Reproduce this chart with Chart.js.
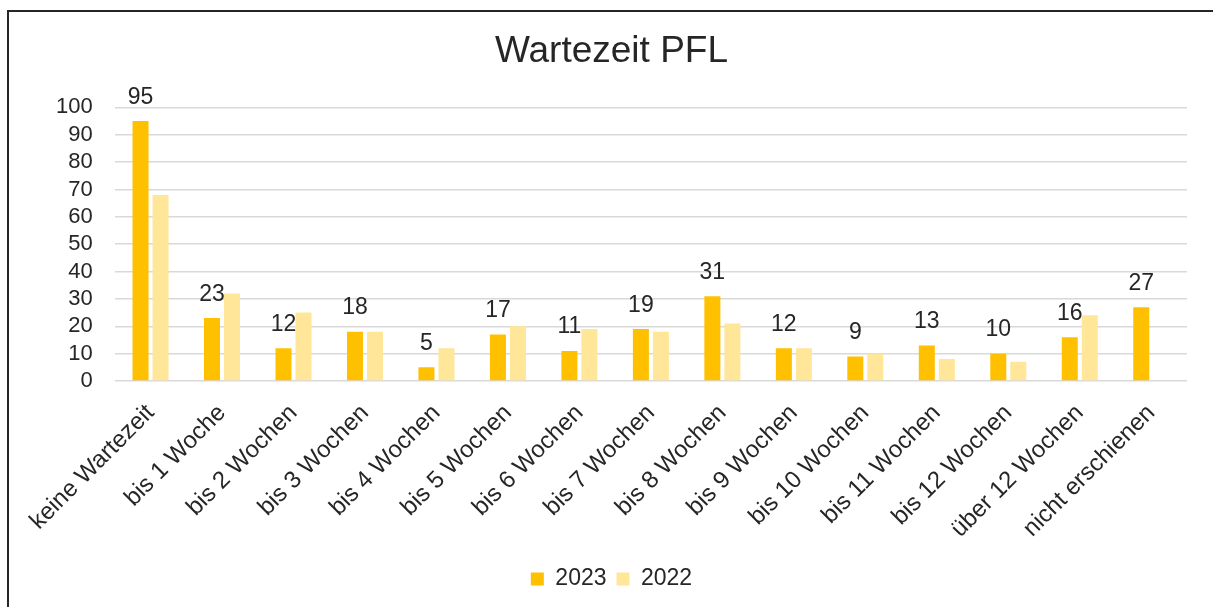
<!DOCTYPE html>
<html lang="de">
<head>
<meta charset="utf-8">
<title>Wartezeit PFL</title>
<script src="https://cdn.jsdelivr.net/npm/chart.js@4/dist/chart.umd.min.js"></script>
<style>
  html, body { margin: 0; padding: 0; background: #fff; overflow: hidden; }
  .frame {
    position: absolute; left: 7px; top: 10px;
    width: 1400px; height: 800px;
    border-left: 2px solid #262626; border-top: 2px solid #262626;
  }
  .chart-box { position: absolute; left: 0; top: 0; width: 1213px; height: 607px; }
</style>
</head>
<body>
<div class="frame"></div>
<div class="chart-box"><canvas id="waitChart"></canvas></div>
<script>
// Wartezeit nach Kategorie, Vergleich 2023 / 2022
const categories = [
  'keine Wartezeit', 'bis 1 Woche', 'bis 2 Wochen', 'bis 3 Wochen', 'bis 4 Wochen',
  'bis 5 Wochen', 'bis 6 Wochen', 'bis 7 Wochen', 'bis 8 Wochen', 'bis 9 Wochen',
  'bis 10 Wochen', 'bis 11 Wochen', 'bis 12 Wochen', 'über 12 Wochen', 'nicht erschienen'
];
const values2023 = [95, 23, 12, 18, 5, 17, 11, 19, 31, 12, 9, 13, 10, 16, 27];
const values2022 = [68, 32, 25, 18, 12, 20, 19, 18, 21, 12, 10, 8, 7, 24, null];
const yTicks = [0, 10, 20, 30, 40, 50, 60, 70, 80, 90, 100];

const FONT = '"Liberation Sans", Arial, sans-serif';
const textColor = '#262626';
const gridColor = '#d9d9d9';

// Werte über den 2023-Balken
const valueLabels = {
  id: 'valueLabels',
  afterDatasetsDraw(chart) {
    const { ctx } = chart;
    const meta = chart.getDatasetMeta(0);
    ctx.save();
    ctx.font = '23px ' + FONT;
    ctx.fillStyle = textColor;
    ctx.textAlign = 'center';
    ctx.textBaseline = 'alphabetic';
    meta.data.forEach((bar, i) => {
      const v = values2023[i];
      if (v == null) return;
      ctx.fillText(String(v), bar.x, bar.y - 17.5);
    });
    ctx.restore();
  }
};

new Chart(document.getElementById('waitChart'), {
  type: 'bar',
  data: {
    labels: categories,
    datasets: [
      { label: '2023', data: values2023, backgroundColor: '#FFC000', categoryPercentage: 0.56, barPercentage: 0.8 },
      { label: '2022', data: values2022, backgroundColor: '#FFE699', categoryPercentage: 0.56, barPercentage: 0.8 }
    ]
  },
  options: {
    responsive: true,
    maintainAspectRatio: false,
    animation: false,
    layout: { padding: { left: 36, right: 26, top: 0, bottom: 6.5 } },
    plugins: {
      title: {
        display: true,
        text: 'Wartezeit PFL',
        color: textColor,
        font: { family: FONT, size: 37, weight: 'normal' },
        padding: { top: 30, bottom: 33 }
      },
      legend: {
        position: 'bottom',
        labels: {
          color: textColor,
          font: { family: FONT, size: 23 },
          boxWidth: 13,
          boxHeight: 13,
          padding: 10
        }
      },
      tooltip: { enabled: false }
    },
    scales: {
      x: {
        grid: { display: false },
        border: { display: false },
        ticks: {
          color: textColor,
          font: { family: FONT, size: 24 },
          minRotation: 45,
          maxRotation: 45,
          autoSkip: false,
          padding: 10
        },
        afterFit: (scale) => { scale.height = 176.5; }
      },
      y: {
        min: 0,
        max: 100,
        afterBuildTicks: (scale) => { scale.ticks = yTicks.map(v => ({ value: v })); },
        grid: { color: gridColor, lineWidth: 1.5, drawTicks: false },
        border: { display: false },
        ticks: {
          color: textColor,
          font: { family: FONT, size: 22 },
          padding: 22,
          autoSkip: false
        },
        afterFit: (scale) => { scale.width = 78.8; }
      }
    }
  },
  plugins: [valueLabels]
});
</script>
</body>
</html>
